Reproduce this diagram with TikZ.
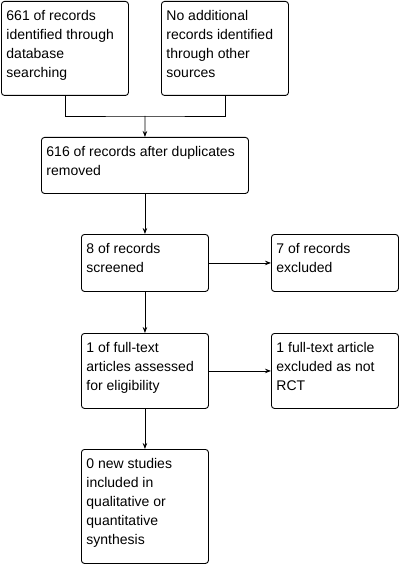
\documentclass[tikz,border=0pt]{standalone}
\usepackage{fontspec}
\setmainfont{Liberation Sans}
\usetikzlibrary{arrows.meta}
\newcommand\boxtext[3]{\parbox[c][#2pt][t]{#1pt}{\strut #3}}
\begin{document}
\begin{tikzpicture}[x=1pt,y=-1pt,
  flowbox/.style={draw, line width=0.9pt, rounded corners=3pt, anchor=north west,
    inner xsep=5pt, inner ysep=6pt, align=left,
    font=\fontsize{14}{19}\selectfont},
  conn/.style={line width=0.9pt},
  arr/.style={conn, -{Stealth[length=6pt,width=4.5pt]}}]
\useasboundingbox[fill=white] (0,0) rectangle (402,564);
\node[flowbox] (b1) at (1,1) {\boxtext{117}{82}{661 of records\\identified through\\database\\searching}};
\node[flowbox] (b2) at (161,1) {\boxtext{117}{82}{No additional\\records identified\\through other\\sources}};
\node[flowbox] (b3) at (41,137) {\boxtext{197}{44}{616 of records after duplicates\\removed}};
\node[flowbox] (b4) at (81,234) {\boxtext{117}{45}{8 of records\\screened}};
\node[flowbox] (b5) at (271,234) {\boxtext{117}{45}{7 of records\\excluded}};
\node[flowbox] (b6) at (81,333) {\boxtext{117}{63}{1 of full-text\\articles assessed\\for eligibility}};
\node[flowbox] (b7) at (271,333) {\boxtext{117}{63}{1 full-text article\\excluded as not\\RCT}};
\node[flowbox] (b8) at (81,449) {\boxtext{117}{102}{0 new studies\\included in\\qualitative or\\quantitative\\synthesis}};
\coordinate (j) at (145,116);
\draw[conn] (b1.south) |- (j) -| (b2.south);
\draw[arr] (j) -- (b3.north);
\draw[arr] (b3.south) -- (b4.north);
\draw[arr] (b4.east) -- (b5.west);
\draw[arr] (b4.south) -- (b6.north);
\draw[arr] (b6.east) -- (b7.west);
\draw[arr] (b6.south) -- (b8.north);
\end{tikzpicture}
\end{document}
